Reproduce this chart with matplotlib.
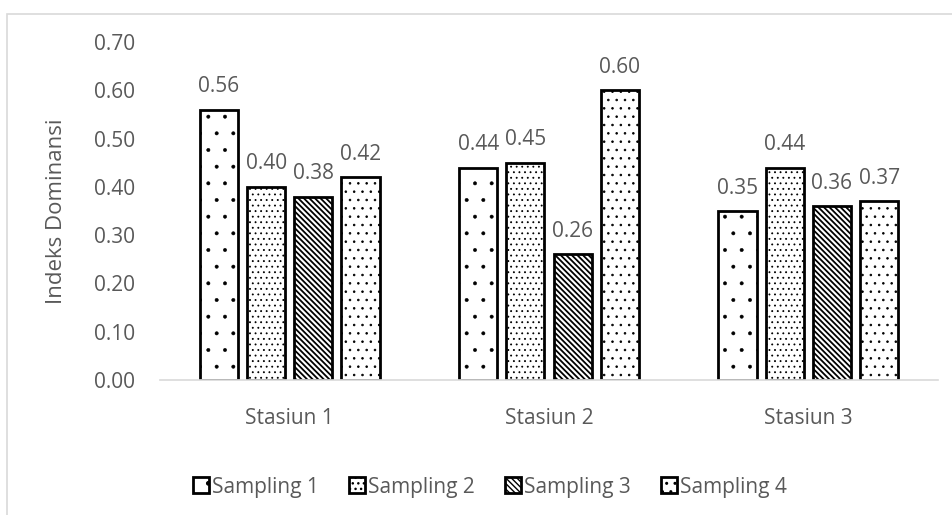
import numpy as np
import matplotlib.pyplot as plt
from matplotlib.patches import Rectangle

# Data
stations = ["Stasiun 1", "Stasiun 2", "Stasiun 3"]
series = ["Sampling 1", "Sampling 2", "Sampling 3", "Sampling 4"]
sampling1 = [0.56, 0.44, 0.35]
sampling2 = [0.40, 0.45, 0.44]
sampling3 = [0.38, 0.26, 0.36]
sampling4 = [0.42, 0.60, 0.37]
yticks = [0.0, 0.1, 0.2, 0.3, 0.4, 0.5, 0.6, 0.7]

values = [sampling1, sampling2, sampling3, sampling4]
hatches = ['.', '...', '\\' * 6, '..']
hatch_lw = [0.35, 0.6, 1.3, 0.6]

plt.rcParams['font.family'] = ['Open Sans', 'DejaVu Sans']
grey = '#595959'

fig = plt.figure(figsize=(9.52, 5.15), dpi=100)
ax = fig.add_axes([160 / 952, 1 - 380 / 515, 778 / 952, 338 / 515])

# outer chart border (light grey frame)
fig.patches.append(Rectangle((7 / 952, -0.1), 1.2, 1 - 14 / 515 + 0.1,
                             transform=fig.transFigure, fill=False,
                             edgecolor='#d9d9d9', linewidth=1.2))

x = np.arange(len(stations))
width = 0.147
step = 0.182
for i, (name, vals) in enumerate(zip(series, values)):
    with plt.rc_context({'hatch.linewidth': hatch_lw[i]}):
        bars = ax.bar(x + (i - 1.5) * step, vals, width, color='white',
                      edgecolor='black', linewidth=2.0, hatch=hatches[i], label=name)
    ax.bar_label(bars, fmt='%.2f', padding=9, fontsize=15, color=grey)

ax.set_xlim(-0.5, 2.5)
ax.set_ylim(0, 0.7)
ax.set_yticks(yticks)
ax.set_yticklabels([f"{t:.2f}" for t in yticks], fontsize=15, color=grey)
ax.set_xticks(x)
ax.set_xticklabels(stations, fontsize=15, color=grey)
ax.tick_params(axis='both', length=0)
ax.tick_params(axis='y', pad=18)
ax.tick_params(axis='x', pad=20)
for s in ['top', 'right', 'left']:
    ax.spines[s].set_visible(False)
ax.spines['bottom'].set_color('#d9d9d9')
ax.spines['bottom'].set_linewidth(1.2)
ax.set_ylabel("Indeks Dominansi", fontsize=16, color=grey)
ax.yaxis.set_label_coords(-0.12, 0.5)

leg = fig.legend(loc='center', bbox_to_anchor=(490 / 952, 1 - 487 / 515), ncol=4,
                 frameon=False, fontsize=15, handlelength=0.77, handleheight=0.77,
                 handletextpad=0.15, columnspacing=1.45)
for t in leg.get_texts():
    t.set_color(grey)

fig.savefig("out.png", dpi=100)
